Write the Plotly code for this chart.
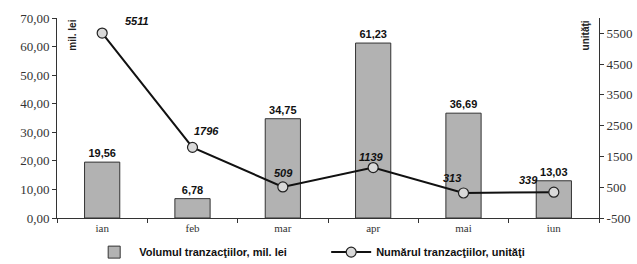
import plotly.graph_objects as go

months = ["ian", "feb", "mar", "apr", "mai", "iun"]
volume = [19.56, 6.78, 34.75, 61.23, 36.69, 13.03]
count = [5511, 1796, 509, 1139, 313, 339]
left_ticks = [0, 10, 20, 30, 40, 50, 60, 70]
right_ticks = [-500, 500, 1500, 2500, 3500, 4500, 5500]
label_dx = [35, 14, 1, -2, -12, -25]
label_dy = [12, 16, 14, 11, 15, 12]

fig = go.Figure()
fig.add_trace(go.Bar(
    x=months, y=volume, name="<b>Volumul tranzacţiilor, mil. lei</b>",
    marker=dict(color="#b2b2b2", line=dict(color="#333333", width=1)),
    width=0.39,
    text=["<b>%s</b>" % f"{v:.2f}".replace(".", ",") for v in volume],
    textposition="outside", cliponaxis=False,
    textfont=dict(family="Liberation Sans, Arial", size=11, color="#111"),
))
fig.add_trace(go.Scatter(
    x=months, y=count, yaxis="y2", name="<b>Numărul tranzacţiilor, unităţi</b>",
    mode="lines+markers",
    line=dict(color="#111", width=2),
    marker=dict(symbol="circle", size=10, color="#d9d9d9", line=dict(color="#222", width=1.2)),
    cliponaxis=False,
))

annotations = [
    dict(text="<b>mil. lei</b>", textangle=-90, xref="paper", yref="paper",
         x=0.028, y=1.0, xanchor="center", yanchor="top", showarrow=False,
         font=dict(family="Liberation Sans Narrow, Liberation Sans", size=10, color="#222")),
    dict(text="<b>unităţi</b>", textangle=-90, xref="paper", yref="paper",
         x=0.975, y=1.0, xanchor="center", yanchor="top", showarrow=False,
         font=dict(family="Liberation Sans Narrow, Liberation Sans", size=10, color="#222")),
]
for m, c, dx, dy in zip(months, count, label_dx, label_dy):
    annotations.append(dict(
        text="<b><i>%d</i></b>" % c, x=m, y=c, xref="x", yref="y2",
        xshift=dx, yshift=dy, showarrow=False,
        font=dict(family="Liberation Sans, Arial", size=11, color="#111")))

fig.update_layout(
    width=637, height=264,
    margin=dict(l=57, r=38, t=18, b=46, autoexpand=False),
    paper_bgcolor="white", plot_bgcolor="white",
    showlegend=True,
    bargap=0.6,
    legend=dict(orientation="h", xref="container", x=0.14, xanchor="left",
                yref="container", y=0.045, yanchor="middle",
                bgcolor="rgba(0,0,0,0)",
                font=dict(family="Liberation Sans, Arial", size=11, color="#111"),
                itemwidth=40, tracegroupgap=0, entrywidth=182, entrywidthmode="pixels"),
    xaxis=dict(
        showline=True, linecolor="#333", linewidth=1,
        ticks="outside", tickson="boundaries", ticklen=4, tickcolor="#333",
        tickfont=dict(family="Liberation Serif, Times New Roman", size=11, color="#333"),
        showgrid=False, zeroline=False,
    ),
    yaxis=dict(
        range=[0, 70], tickvals=left_ticks,
        ticktext=[f"{v:.2f}".replace(".", ",") for v in left_ticks],
        showline=True, linecolor="#333", linewidth=1,
        ticks="outside", ticklen=4, tickcolor="#333",
        tickfont=dict(family="Liberation Serif, Times New Roman", size=13, color="#333"),
        showgrid=False, zeroline=False,
    ),
    yaxis2=dict(
        range=[-500, 6000], tickvals=right_ticks, ticktext=[str(v) for v in right_ticks],
        overlaying="y", side="right",
        showline=True, linecolor="#333", linewidth=1,
        ticks="outside", ticklen=4, tickcolor="#333",
        tickfont=dict(family="Liberation Serif, Times New Roman", size=13, color="#333"),
        showgrid=False, zeroline=False,
    ),
    annotations=annotations,
)

fig.write_html("out.html", config={"displayModeBar": False},
               post_script="document.body.style.margin='0';")
